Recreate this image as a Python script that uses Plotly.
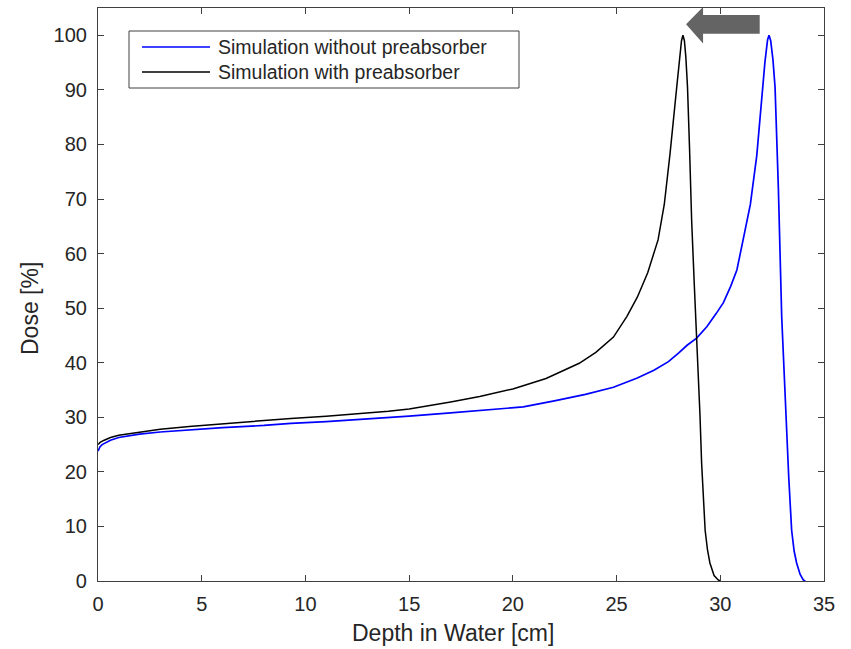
import plotly.graph_objects as go

# Depth-dose curves (depth in cm, dose in % of maximum)
depth_without = [0.0, 0.1, 0.2, 0.4, 0.6, 1.0, 1.5, 2.0, 3.0, 4.4, 6.0, 8.0, 9.3, 11.0,
                 13.6, 15.0, 17.0, 18.5, 20.5, 22.0, 23.5, 24.85, 26.0, 26.8, 27.5, 28.0,
                 28.4, 28.86, 29.35, 29.8, 30.15, 30.5, 30.8, 31.1, 31.45, 31.76, 32.0,
                 32.15, 32.28, 32.35, 32.43, 32.54, 32.64, 32.8, 32.96, 33.1, 33.2, 33.3,
                 33.44, 33.56, 33.68, 33.85, 34.0, 34.1]
dose_without = [23.8, 24.6, 25.0, 25.4, 25.8, 26.3, 26.6, 26.9, 27.3, 27.7, 28.1, 28.5, 28.9, 29.2,
                29.8, 30.2, 30.8, 31.3, 31.9, 33.0, 34.2, 35.5, 37.2, 38.6, 40.2, 41.8,
                43.2, 44.5, 46.6, 49.0, 51.0, 54.0, 57.0, 62.5, 69.0, 78.0, 89.0,
                95.0, 99.2, 100.0, 99.0, 95.5, 90.5, 72.0, 48.5, 35.0, 27.7, 19.0,
                9.3, 5.5, 3.3, 1.2, 0.2, 0.0]

depth_with = [0.0, 0.1, 0.3, 0.6, 1.0, 2.0, 3.0, 4.4, 6.0, 8.0, 9.3, 11.0, 12.5, 14.0,
              15.0, 16.0, 17.0, 18.4, 20.0, 21.6, 23.2, 24.0, 24.85, 25.5, 26.0, 26.5,
              27.0, 27.3, 27.58, 27.9, 28.03, 28.13, 28.2, 28.27, 28.34, 28.42, 28.52,
              28.62, 28.75, 28.87, 28.94, 29.02, 29.1, 29.18, 29.27, 29.38, 29.5, 29.7,
              29.9, 30.0]
dose_with = [25.0, 25.4, 25.8, 26.3, 26.7, 27.3, 27.8, 28.3, 28.8, 29.4, 29.8, 30.2, 30.6, 31.1,
             31.5, 32.1, 32.8, 33.8, 35.2, 37.1, 39.9, 41.9, 44.7, 48.5, 52.0, 56.5,
             62.5, 69.0, 78.4, 90.5, 95.5, 99.0, 100.0, 99.0, 96.0, 90.5, 79.0,
             66.0, 54.0, 43.0, 39.9, 30.5, 21.6, 14.5, 9.3, 5.8, 3.3, 1.0,
             0.2, 0.0]

series_names = ["Simulation without preabsorber", "Simulation with preabsorber"]
series_colors = ["#0000FF", "#000000"]

x_ticks = [0, 5, 10, 15, 20, 25, 30, 35]
y_ticks = [0, 10, 20, 30, 40, 50, 60, 70, 80, 90, 100]

axis_color = "#404040"
text_color = "#262626"
font_family = "Liberation Sans, Arial, Helvetica, sans-serif"

fig = go.Figure()
fig.add_trace(go.Scatter(x=depth_without, y=dose_without, mode="lines",
                         name=series_names[0],
                         line=dict(color=series_colors[0], width=1.7)))
fig.add_trace(go.Scatter(x=depth_with, y=dose_with, mode="lines",
                         name=series_names[1],
                         line=dict(color=series_colors[1], width=1.5)))

# Block arrow showing the shift of the Bragg peak toward shallower depth
arrow_path = ("M 28.35 102.0 L 29.17 105.2 L 29.17 103.7 L 31.9 103.7 "
              "L 31.9 100.3 L 29.17 100.3 L 29.17 98.5 Z")
fig.add_shape(type="path", path=arrow_path, xref="x", yref="y",
              fillcolor="#646464", line=dict(width=0), layer="above")

# Boxed legend drawn in paper coordinates
lx0, lx1 = 31 / 726, 421 / 726
ly0, ly1 = (581 - 88) / 573, (581 - 31) / 573
fig.add_shape(type="rect", xref="paper", yref="paper", x0=lx0, x1=lx1, y0=ly0, y1=ly1,
              line=dict(color=axis_color, width=1), fillcolor="white", layer="above")
row_y = [(581 - 47) / 573, (581 - 72) / 573]
for name, color, ry in zip(series_names, series_colors, row_y):
    fig.add_shape(type="line", xref="paper", yref="paper",
                  x0=44 / 726, x1=112 / 726, y0=ry, y1=ry,
                  line=dict(color=color, width=1.6), layer="above")
    fig.add_annotation(xref="paper", yref="paper", x=118 / 726, y=ry, text=name,
                       showarrow=False, xanchor="left", yanchor="middle",
                       font=dict(family=font_family, size=19.5, color=text_color))

# Axis titles
fig.add_annotation(xref="paper", yref="paper", x=(453 - 98) / 726, y=(581 - 633) / 573,
                   text="Depth in Water [cm]", showarrow=False,
                   xanchor="center", yanchor="middle",
                   font=dict(family=font_family, size=23, color=text_color))
fig.add_annotation(xref="paper", yref="paper", x=(30 - 98) / 726, y=(581 - 309) / 573,
                   text="Dose [%]", showarrow=False, textangle=-90,
                   xanchor="center", yanchor="middle",
                   font=dict(family=font_family, size=23, color=text_color))

axis_common = dict(showline=True, linecolor=axis_color, linewidth=1.2, mirror="ticks",
                   ticks="inside", ticklen=6, tickcolor=axis_color, tickwidth=1,
                   showgrid=False, zeroline=False,
                   tickfont=dict(family=font_family, size=20, color=text_color))

fig.update_xaxes(range=[0, 35], tickvals=x_ticks, ticklabelstandoff=5, **axis_common)
fig.update_yaxes(range=[0, 105], tickvals=y_ticks, ticklabelstandoff=6, **axis_common)

fig.update_layout(width=851, height=649, showlegend=False,
                  margin=dict(l=98, r=27, t=8, b=68),
                  plot_bgcolor="white", paper_bgcolor="white",
                  font=dict(family=font_family, color=text_color))

fig.write_html("out.html")
